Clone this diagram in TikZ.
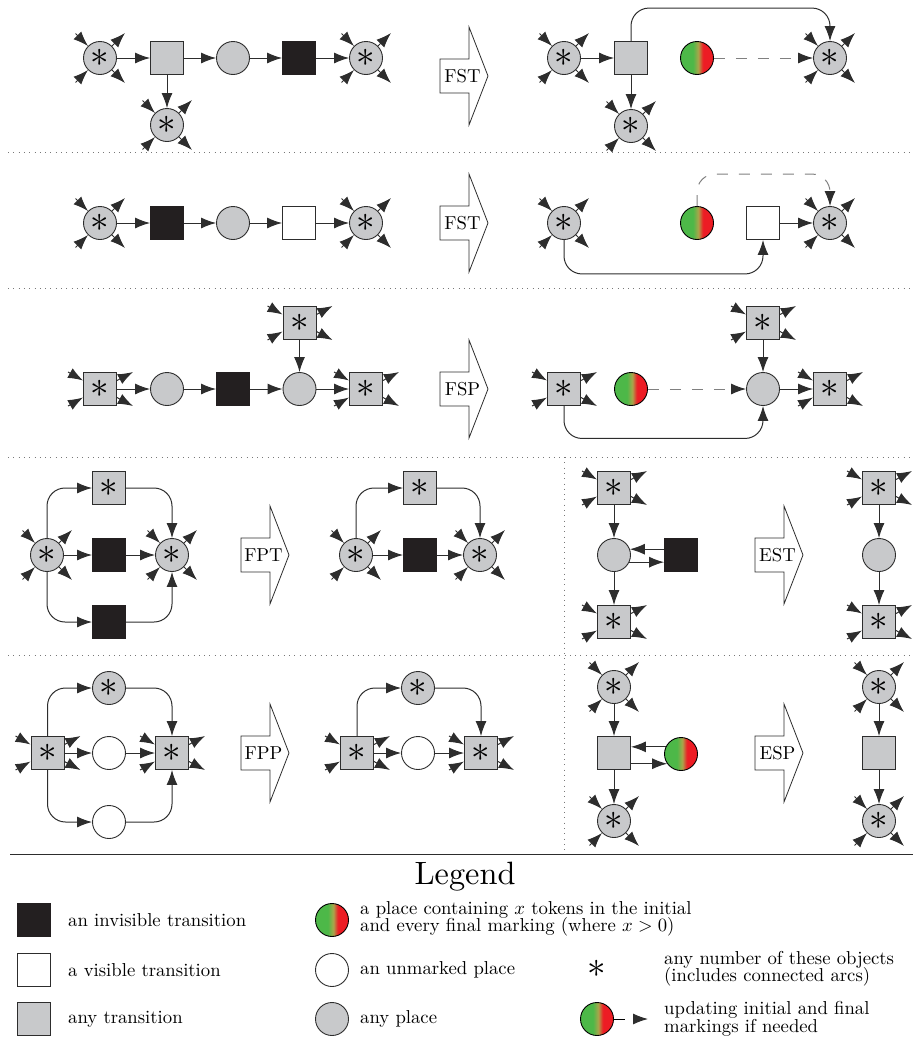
\documentclass[tikz,border=0pt]{standalone}
\usepackage{graphicx}
\usetikzlibrary{arrows.meta,calc}
\definecolor{lc}{RGB}{45,45,45}
\definecolor{pgray}{RGB}{200,201,203}
\definecolor{pblack}{RGB}{35,31,32}
\definecolor{tokG}{RGB}{77,184,72}
\definecolor{tokM}{RGB}{170,165,75}
\definecolor{tokR}{RGB}{237,28,36}
\definecolor{sepc}{RGB}{120,120,120}
\pgfdeclarehorizontalshading{tokshade}{100bp}{color(0bp)=(tokG); color(44bp)=(tokG); color(52bp)=(tokM); color(59bp)=(tokR); color(100bp)=(tokR)}
\newcommand{\stQ}{\scalebox{3.7}{$\ast$}}
\newcommand{\onel}[1]{\scalebox{1.87}{#1}}
\newcommand{\twol}[2]{\scalebox{1.87}{\vbox{\fontsize{10}{9.3}\selectfont\lineskiplimit=-10pt\hbox{#1}\hbox{#2}}}}
\tikzset{
  base/.style={minimum size=33pt, inner sep=0pt, line width=0.9pt, draw=lc},
  plc/.style={base, circle, fill=pgray},
  plw/.style={base, circle, fill=white},
  plt/.style={base, circle, draw=black, shading=tokshade},
  trn/.style={base, rectangle, fill=pgray},
  trinv/.style={base, rectangle, fill=pblack, draw=pblack},
  trvis/.style={base, rectangle, fill=white},
  arc/.style={-{Latex[length=15pt,width=11pt]}, line width=1pt, draw=lc},
  arcr/.style={arc, rounded corners=18pt},
  dsh/.style={-{Latex[length=15pt,width=11pt,color=lc]}, line width=1pt, draw=gray, dash pattern=on 11pt off 11pt},
  dshr/.style={dsh, rounded corners=18pt},
  sep/.style={draw=sepc, line width=1pt, dash pattern=on 1pt off 4.3pt},
  lbl/.style={font=\fontsize{10}{8}\selectfont, inner sep=0pt},
}
\newcommand{\cstubs}[1]{%
  \draw[arc] ($(#1.135)+(-12.5,-12.5)$) -- (#1.135);
  \draw[arc] ($(#1.225)+(-12.5,12.5)$) -- (#1.225);
  \draw[arc] (#1.45) -- ($(#1.45)+(13,-13)$);
  \draw[arc] (#1.-45) -- ($(#1.-45)+(13,13)$);}
\newcommand{\sstubs}[1]{%
  \draw[arc] ($(#1.west)+(-15,-17)$) -- ($(#1.west)+(0,-8.5)$);
  \draw[arc] ($(#1.west)+(-15,17)$) -- ($(#1.west)+(0,8.5)$);
  \draw[arc] ($(#1.east)+(0,-8.5)$) -- ($(#1.east)+(16,-17)$);
  \draw[arc] ($(#1.east)+(0,8.5)$) -- ($(#1.east)+(16,17)$);}
\newcommand{\bigarr}[4]{%
  \draw[line width=0.8pt, draw=lc, fill=white] (#2,#3-17) -- (#2+29,#3-17) -- (#2+29,#3-49) -- (#2+48,#3) -- (#2+29,#3+49) -- (#2+29,#3+17) -- (#2,#3+17) -- cycle;
  \node[lbl] (#1) at (#2+22.5,#3) {\onel{#4}};}
\begin{document}
\begin{tikzpicture}[x=1pt,y=-1pt]
\useasboundingbox (0,0) rectangle (915,1039);
% ---------- row 1 ----------
\node[plc] (a1) at (100,58) {\stQ};
\node[trn] (a2) at (167,58) {};
\node[plc] (a3) at (233,58) {};
\node[trinv] (a4) at (299,58) {};
\node[plc] (a5) at (366,58) {\stQ};
\node[plc] (a6) at (167,125) {\stQ};
\draw[arc] (a1) -- (a2);
\draw[arc] (a2) -- (a3);
\draw[arc] (a3) -- (a4);
\draw[arc] (a4) -- (a5);
\draw[arc] (a2) -- (a6);
\cstubs{a1}\cstubs{a5}\cstubs{a6}
\bigarr{fst1}{440}{76}{FST}
\node[plc] (b1) at (564,58) {\stQ};
\node[trn] (b2) at (631,58) {};
\node[plt] (b3) at (697,58) {};
\node[plc] (b4) at (830,58) {\stQ};
\node[plc] (b5) at (631,126) {\stQ};
\draw[arc] (b1) -- (b2);
\draw[arc] (b2) -- (b5);
\draw[arcr] (b2.north) -- ($(b2.north)+(0,-33)$) -| (b4.north);
\draw[dsh] (b3) -- (b4);
\cstubs{b1}\cstubs{b4}\cstubs{b5}
% ---------- row 2 ----------
\node[plc] (c1) at (100,223) {\stQ};
\node[trinv] (c2) at (167,223) {};
\node[plc] (c3) at (233,223) {};
\node[trvis] (c4) at (299,223) {};
\node[plc] (c5) at (366,223) {\stQ};
\draw[arc] (c1) -- (c2);
\draw[arc] (c2) -- (c3);
\draw[arc] (c3) -- (c4);
\draw[arc] (c4) -- (c5);
\cstubs{c1}\cstubs{c5}
\bigarr{fst2}{440}{223}{FST}
\node[plc] (d1) at (564,223) {\stQ};
\node[plt] (d2) at (697,223) {};
\node[trvis] (d3) at (763,223) {};
\node[plc] (d4) at (830,223) {\stQ};
\draw[arc] (d3) -- (d4);
\draw[arcr] (d1.south) -- ($(d1.south)+(0,34)$) -| (d3.south);
\draw[dshr] (d2.north) -- ($(d2.north)+(0,-32)$) -| (d4.north);
\cstubs{d1}\cstubs{d4}
% ---------- row 3 ----------
\node[trn] (e1) at (100,389) {\stQ};
\node[plc] (e2) at (167,389) {};
\node[trinv] (e3) at (233,389) {};
\node[plc] (e4) at (299.5,389) {};
\node[trn] (e5) at (366,389) {\stQ};
\node[trn] (e6) at (299.5,323) {\stQ};
\draw[arc] (e1) -- (e2);
\draw[arc] (e2) -- (e3);
\draw[arc] (e3) -- (e4);
\draw[arc] (e4) -- (e5);
\draw[arc] (e6) -- (e4);
\sstubs{e1}\sstubs{e5}\sstubs{e6}
\bigarr{fsp}{440}{389}{FSP}
\node[trn] (f1) at (564,389) {\stQ};
\node[plt] (f2) at (631,389) {};
\node[plc] (f3) at (763,389) {};
\node[trn] (f4) at (763,323) {\stQ};
\node[trn] (f5) at (830,389) {\stQ};
\draw[arc] (f4) -- (f3);
\draw[arc] (f3) -- (f5);
\draw[dsh] (f2) -- (f3);
\draw[arcr] (f1.south) -- ($(f1.south)+(0,32.5)$) -| (f3.south);
\sstubs{f1}\sstubs{f4}\sstubs{f5}
% ---------- separators ----------
\draw[sep] (8,152) -- (913,152);
\draw[sep] (8,288) -- (913,288);
\draw[sep] (8,457) -- (913,457);
\draw[sep] (8,655) -- (913,655);
\draw[sep] (564,457) -- (564,854);
\draw[line width=1pt, draw=lc] (10,854) -- (913,854);
% ---------- row 4 ----------
\node[plc] (g1) at (47,555) {\stQ};
\node[trn] (g2) at (109,488) {\stQ};
\node[trinv] (g3) at (109,555) {};
\node[trinv] (g4) at (109,622) {};
\node[plc] (g5) at (172,555) {\stQ};
\draw[arc] (g1) -- (g3);
\draw[arc] (g3) -- (g5);
\draw[arcr] (g1.north) |- (g2.west);
\draw[arcr] (g2.east) -| (g5.north);
\draw[arcr] (g1.south) |- (g4.west);
\draw[arcr] (g4.east) -| (g5.south);
\cstubs{g1}\cstubs{g5}
\bigarr{fpt}{241}{555}{FPT}
\node[plc] (h1) at (356,555) {\stQ};
\node[trn] (h2) at (420,488) {\stQ};
\node[trinv] (h3) at (420,555) {};
\node[plc] (h4) at (480,555) {\stQ};
\draw[arc] (h1) -- (h3);
\draw[arc] (h3) -- (h4);
\draw[arcr] (h1.north) |- (h2.west);
\draw[arcr] (h2.east) -| (h4.north);
\cstubs{h1}\cstubs{h4}
\node[trn] (i1) at (614,488) {\stQ};
\node[plc] (i2) at (614,555) {};
\node[trinv] (i3) at (681,555) {};
\node[trn] (i4) at (614,622) {\stQ};
\draw[arc] (i1) -- (i2);
\draw[arc] (i2) -- (i4);
\draw[arc] (i2.20 -| i3.west) -- (i2.20);
\draw[arc] (i2.-25) -- (i2.-25 -| i3.west);
\sstubs{i1}\sstubs{i4}
\bigarr{est}{755}{555}{EST}
\node[trn] (j1) at (879,488) {\stQ};
\node[plc] (j2) at (879,555) {};
\node[trn] (j3) at (879,622) {\stQ};
\draw[arc] (j1) -- (j2);
\draw[arc] (j2) -- (j3);
\sstubs{j1}\sstubs{j3}
% ---------- row 5 ----------
\node[trn] (k1) at (47.5,753) {\stQ};
\node[plc] (k2) at (109,688) {\stQ};
\node[plw] (k3) at (109,753) {};
\node[plw] (k4) at (109,822) {};
\node[trn] (k5) at (172,753) {\stQ};
\draw[arc] (k1) -- (k3);
\draw[arc] (k3) -- (k5);
\draw[arcr] (k1.north) |- (k2.west);
\draw[arcr] (k2.east) -| (k5.north);
\draw[arcr] (k1.south) |- (k4.west);
\draw[arcr] (k4.east) -| (k5.south);
\sstubs{k1}\sstubs{k5}
\bigarr{fpp}{241}{753}{FPP}
\node[trn] (l1) at (357,753) {\stQ};
\node[plc] (l2) at (418,688) {\stQ};
\node[plw] (l3) at (418,753) {};
\node[trn] (l4) at (481,753) {\stQ};
\draw[arc] (l1) -- (l3);
\draw[arc] (l3) -- (l4);
\draw[arcr] (l1.north) |- (l2.west);
\draw[arcr] (l2.east) -| (l4.north);
\sstubs{l1}\sstubs{l4}
\node[plc] (m1) at (614,687) {\stQ};
\node[trn] (m2) at (614,753) {};
\node[plt] (m3) at (681,754) {};
\node[plc] (m4) at (614,821) {\stQ};
\draw[arc] (m1) -- (m2);
\draw[arc] (m2) -- (m4);
\draw[arc] (m3.155) -- (m3.155 -| m2.east);
\draw[arc] (m2.east |- m3.215) -- (m3.215);
\cstubs{m1}\cstubs{m4}
\bigarr{esp}{755}{753}{ESP}
\node[plc] (n1) at (879,687) {\stQ};
\node[trn] (n2) at (879,753) {};
\node[plc] (n3) at (879,821) {\stQ};
\draw[arc] (n1) -- (n2);
\draw[arc] (n2) -- (n3);
\cstubs{n1}\cstubs{n3}
% ---------- legend ----------
\node[lbl] (leg) at (465,877) {\scalebox{3.23}{Legend}};
\node[trinv] (L1) at (34,920) {};
\node[lbl, anchor=west] (L1t) at (68,920) {\onel{an invisible transition}};
\node[trvis] (L2) at (34,970) {};
\node[lbl, anchor=west] (L2t) at (68,970) {\onel{a visible transition}};
\node[trn] (L3) at (34,1019) {};
\node[lbl, anchor=west] (L3t) at (68,1019) {\onel{any transition}};
\node[plt] (L4) at (332,920) {};
\node[lbl, anchor=west] (L4t) at (360,919) {\twol{a place containing $x$ tokens in the initial}{and every final marking (where $x>0$)}};
\node[plw] (L5) at (332,970) {};
\node[lbl, anchor=west] (L5t) at (360,970) {\onel{an unmarked place}};
\node[plc] (L6) at (332,1019) {};
\node[lbl, anchor=west] (L6t) at (360,1019) {\onel{any place}};
\node[inner sep=0pt] (L7) at (597,969) {\stQ};
\node[lbl, anchor=west] (L7t) at (664,969) {\twol{any number of these objects}{(includes connected arcs)}};
\node[plt] (L8) at (597,1019) {};
\coordinate (L8e) at (648,1019);
\draw[dsh, draw=black] (L8) -- (L8e);
\node[lbl, anchor=west] (L8t) at (664,1019) {\twol{updating initial and final}{markings if needed}};
\end{tikzpicture}
\end{document}
